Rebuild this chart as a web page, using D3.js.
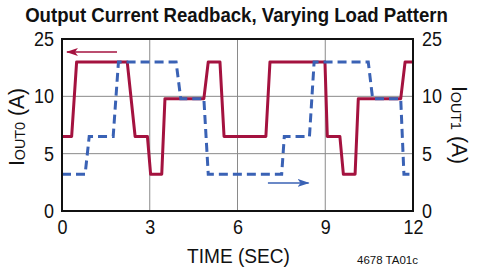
<!DOCTYPE html>
<html>
<head>
<meta charset="utf-8">
<script src="https://cdn.jsdelivr.net/npm/d3@7"></script>
<style>
  body { margin: 0; background: #fff; }
  svg text { font-family: "Liberation Sans", Arial, sans-serif; fill: #111; }
</style>
</head>
<body>
<div id="graphWrapper"></div>
<script>
// values: time in seconds, current in amps
var out0Time = [0, 0.33, 0.5, 2.23, 2.5, 2.92, 3.03, 3.41, 3.52, 4.85, 5.0, 5.4, 5.54, 6.97, 7.11, 8.99, 9.07, 9.5, 9.62, 10.02, 10.13, 11.58, 11.73, 12];
var out0Amps = [6.5, 6.5, 19, 19, 6.5, 6.5, 3.2, 3.2, 9.8, 9.8, 19, 19, 6.5, 6.5, 19, 19, 6.5, 6.5, 3.2, 3.2, 9.8, 9.8, 19, 19];
var out1Time = [0, 0.79, 0.93, 1.75, 1.93, 3.9, 4.06, 4.85, 5.0, 7.51, 7.6, 8.46, 8.62, 10.47, 10.62, 11.58, 11.69, 12];
var out1Amps = [3.2, 3.2, 6.5, 6.5, 19, 19, 9.8, 9.8, 3.2, 3.2, 6.5, 6.5, 19, 19, 9.8, 9.8, 3.2, 3.2];
var xTicks = [0, 3, 6, 9, 12];
var yTicks = [0, 5, 10, 25];

var widtha = 478, heighta = 270;
var red = "#a4123f", blue = "#3a62b5";

const svg = d3.select("#graphWrapper").append("svg")
      .attr("width", widtha).attr("height", heighta),
    margin = {top: 39, right: 65, bottom: 59, left: 62},
    width  = widtha - margin.left - margin.right,
    height = heighta - margin.top - margin.bottom,
    x = d3.scaleLinear().domain([0, 12]).range([0, width]),
    // the y axis is split in three equal bands: 0-5, 5-10, 10-25
    y = d3.scaleLinear().domain(yTicks).range([height, height * 2 / 3, height / 3, 0]),
    g = svg.append("g").attr("transform", `translate(${margin.left},${margin.top})`);

// squeeze a text horizontally to a given width (the original uses a condensed face)
function narrow(sel, cx, cy, w) {
  var len = sel.node().getComputedTextLength();
  sel.style("text-anchor", "middle")
     .attr("transform", `translate(${cx},${cy}) scale(${w / len},1)`);
}

// grid
g.selectAll(".vgrid").data(xTicks.slice(1, -1)).enter().append("line")
  .attr("x1", d => x(d)).attr("x2", d => x(d))
  .attr("y1", 0).attr("y2", height)
  .attr("stroke", "#8a8a8a").attr("stroke-width", 1);
g.selectAll(".hgrid").data(yTicks.slice(1, -1)).enter().append("line")
  .attr("x1", 0).attr("x2", width)
  .attr("y1", d => y(d)).attr("y2", d => y(d))
  .attr("stroke", "#8a8a8a").attr("stroke-width", 1);

// axes, only used for their labels
var ax = g.append("g").attr("transform", `translate(0,${height})`)
  .call(d3.axisBottom(x).tickValues(xTicks).tickSize(0).tickPadding(9));
var ayl = g.append("g").call(d3.axisLeft(y).tickValues(yTicks).tickSize(0).tickPadding(8));
var ayr = g.append("g").attr("transform", `translate(${width},0)`)
  .call(d3.axisRight(y).tickValues(yTicks).tickSize(0).tickPadding(9));
[ax, ayl, ayr].forEach(a => {
  a.select(".domain").remove();
  a.selectAll("text").style("font-size", "20px").attr("fill", "#111")
    .attr("textLength", d => d >= 10 ? 20 : 10).attr("lengthAdjust", "spacingAndGlyphs");
});

// the traces
var line = d3.line().x(d => x(d[0])).y(d => y(d[1]));
g.append("path")
  .datum(d3.zip(out0Time, out0Amps))
  .attr("d", line)
  .attr("fill", "none").attr("stroke", red).attr("stroke-width", 3)
  .attr("stroke-linejoin", "round");
g.append("path")
  .datum(d3.zip(out1Time, out1Amps))
  .attr("d", line)
  .attr("fill", "none").attr("stroke", blue).attr("stroke-width", 3)
  .attr("stroke-dasharray", "9,5");

// frame
g.append("rect").attr("width", width).attr("height", height)
  .attr("fill", "none").attr("stroke", "#111").attr("stroke-width", 2);

// arrows showing which axis each trace uses
var defs = svg.append("defs");
[["headRed", red], ["headBlue", blue]].forEach(h => {
  defs.append("marker").attr("id", h[0])
    .attr("viewBox", "0 0 12 8").attr("refX", 11).attr("refY", 4)
    .attr("markerWidth", 12).attr("markerHeight", 8)
    .attr("markerUnits", "userSpaceOnUse").attr("orient", "auto")
    .append("path").attr("d", "M0,0 L12,4 L0,8 L3,4 Z").attr("fill", h[1]);
});
g.append("line")
  .attr("x1", x(1.88)).attr("x2", x(0.17))
  .attr("y1", y(21.6)).attr("y2", y(21.6))
  .attr("stroke", red).attr("stroke-width", 1.5)
  .attr("marker-end", "url(#headRed)");
g.append("line")
  .attr("x1", x(7.04)).attr("x2", x(8.43))
  .attr("y1", y(2.45)).attr("y2", y(2.45))
  .attr("stroke", blue).attr("stroke-width", 1.5)
  .attr("marker-end", "url(#headBlue)");

// title and axis labels
var title = svg.append("text")
  .style("font-weight", "bold").style("font-size", "21px")
  .text("Output Current Readback, Varying Load Pattern");
narrow(title, 236.5, 22, 423);

var xl = svg.append("text")
  .style("font-size", "20px")
  .text("TIME (SEC)");
narrow(xl, 238.5, 263, 103);

var note = svg.append("text")
  .style("font-size", "11px")
  .text("4678 TA01c");
narrow(note, 387.5, 264, 61);

var yl = svg.append("text")
  .attr("transform", "translate(24,166) rotate(-90)")
  .attr("textLength", 78).attr("lengthAdjust", "spacingAndGlyphs")
  .style("font-size", "22px");
yl.append("tspan").text("I");
yl.append("tspan").attr("dy", 1).style("font-size", "15px").text("OUT0");
yl.append("tspan").attr("dy", -1).text(" (A)");

var yr = svg.append("text")
  .attr("transform", "translate(452,86) rotate(90)")
  .attr("textLength", 78).attr("lengthAdjust", "spacingAndGlyphs")
  .style("font-size", "22px");
yr.append("tspan").text("I");
yr.append("tspan").attr("dy", 1).style("font-size", "15px").text("OUT1");
yr.append("tspan").attr("dy", -1).text(" (A)");
</script>
</body>
</html>
